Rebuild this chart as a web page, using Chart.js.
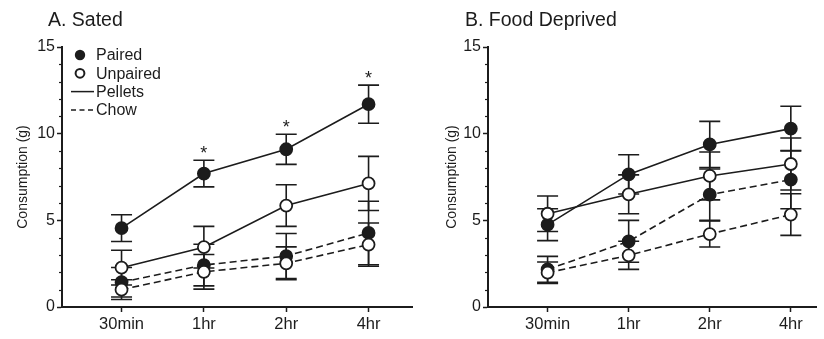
<!DOCTYPE html>
<html>
<head>
<meta charset="utf-8">
<script src="https://cdn.jsdelivr.net/npm/chart.js@4.4.1/dist/chart.umd.min.js"></script>
<style>
  html, body { margin: 0; padding: 0; background: #fff; }
  #wrap { position: relative; width: 824px; height: 339px; overflow: hidden; font-family: "Liberation Sans", Arial, sans-serif; }
  canvas { position: absolute; top: 0; }
  #chartA { left: 0; }
  #chartB { left: 420px; }
  .panel-title { position: absolute; top: 9px; font-size: 19.5px; line-height: 20px; color: #1c1c1c; white-space: nowrap; }
</style>
</head>
<body>
<div id="wrap">
  <canvas id="chartA" width="420" height="339"></canvas>
  <canvas id="chartB" width="404" height="339"></canvas>
  <div class="panel-title" style="left:48px">A. Sated</div>
  <div class="panel-title" style="left:465px">B. Food Deprived</div>
</div>
<script>
const timepoints = ['30min', '1hr', '2hr', '4hr'];
const yTicks = [0, 5, 10, 15];
const legendLabels = ['Paired', 'Unpaired', 'Pellets', 'Chow'];

// A. Sated  (mean and SEM, grams)
const satedPairedPellets = [4.55, 7.7, 9.1, 11.7];
const satedPairedPelletsSem = [0.77, 0.77, 0.87, 1.1];
const satedUnpairedPellets = [2.27, 3.45, 5.85, 7.13];
const satedUnpairedPelletsSem = [1.0, 1.2, 1.2, 1.56];
const satedPairedChow = [1.43, 2.42, 2.94, 4.27];
const satedPairedChowSem = [0.85, 1.2, 1.3, 1.83];
const satedUnpairedChow = [1.0, 2.03, 2.52, 3.6];
const satedUnpairedChowSem = [0.57, 1.0, 0.95, 1.25];
const satedStars = ['', '*', '*', '*'];

// B. Food Deprived
const deprivedPairedPellets = [4.75, 7.65, 9.38, 10.29];
const deprivedPairedPelletsSem = [0.92, 1.13, 1.33, 1.29];
const deprivedUnpairedPellets = [5.38, 6.5, 7.56, 8.25];
const deprivedUnpairedPelletsSem = [1.02, 1.12, 1.38, 1.5];
const deprivedPairedChow = [2.17, 3.79, 6.48, 7.35];
const deprivedPairedChowSem = [0.75, 1.21, 1.48, 1.68];
const deprivedUnpairedChow = [1.98, 2.98, 4.21, 5.33];
const deprivedUnpairedChowSem = [0.62, 0.81, 0.75, 1.2];
const deprivedStars = ['', '', '', ''];

const INK = '#1c1c1c';
const FONT = '"Liberation Sans", Arial, sans-serif';
Chart.defaults.font.family = FONT;

// error bars drawn under the lines and markers
const errorBars = {
  id: 'errorBars',
  beforeDatasetsDraw(chart) {
    const {ctx, scales: {x, y}} = chart;
    ctx.save();
    ctx.strokeStyle = INK;
    ctx.lineWidth = 1.6;
    chart.data.datasets.forEach(ds => {
      ds.data.forEach((p, i) => {
        const e = ds.sem[i];
        const px = x.getPixelForValue(p.x);
        const top = y.getPixelForValue(p.y + e);
        const bot = y.getPixelForValue(p.y - e);
        ctx.beginPath();
        ctx.moveTo(px, top); ctx.lineTo(px, bot);
        ctx.moveTo(px - 10.5, top); ctx.lineTo(px + 10.5, top);
        ctx.moveTo(px - 10.5, bot); ctx.lineTo(px + 10.5, bot);
        ctx.stroke();
      });
    });
    ctx.restore();
  }
};

const stars = {
  id: 'stars',
  afterDatasetsDraw(chart, args, opts) {
    if (!opts.marks) return;
    const {ctx, scales: {x, y}} = chart;
    ctx.save();
    ctx.fillStyle = INK;
    ctx.font = '18px ' + FONT;
    ctx.textAlign = 'center';
    ctx.textBaseline = 'alphabetic';
    opts.marks.forEach((m, i) => {
      if (!m) return;
      const py = y.getPixelForValue(opts.values[i] + opts.sem[i]);
      ctx.fillText(m, x.getPixelForValue(i), py - 1);
    });
    ctx.restore();
  }
};

// minor y ticks every 1 g
const minorTicks = {
  id: 'minorTicks',
  afterDraw(chart) {
    const {ctx, chartArea, scales: {y}} = chart;
    ctx.save();
    ctx.strokeStyle = INK;
    ctx.lineWidth = 1.2;
    for (let v = y.min; v <= y.max; v++) {
      if (v % 5 === 0) continue;
      const py = Math.round(y.getPixelForValue(v)) + 0.5;
      ctx.beginPath();
      ctx.moveTo(chartArea.left - 3, py);
      ctx.lineTo(chartArea.left, py);
      ctx.stroke();
    }
    ctx.restore();
  }
};

const keyLegend = {
  id: 'keyLegend',
  afterDraw(chart, args, opts) {
    if (!opts.show) return;
    const {ctx, chartArea: {left, top}} = chart;
    ctx.save();
    ctx.fillStyle = INK;
    ctx.strokeStyle = INK;
    ctx.font = '16px ' + FONT;
    ctx.textBaseline = 'middle';
    legendLabels.forEach((lab, k) => {
      const cy = top + 8 + k * 18.3;
      const mx = left + 18;
      ctx.setLineDash([]);
      if (k === 0) {
        ctx.beginPath(); ctx.arc(mx, cy, 5.2, 0, Math.PI * 2); ctx.fill();
      } else if (k === 1) {
        ctx.lineWidth = 2;
        ctx.beginPath(); ctx.arc(mx, cy, 4.4, 0, Math.PI * 2); ctx.stroke();
      } else {
        ctx.lineWidth = 1.5;
        if (k === 3) ctx.setLineDash([5, 3.5]);
        ctx.beginPath(); ctx.moveTo(left + 9, cy); ctx.lineTo(left + 32, cy); ctx.stroke();
      }
      ctx.fillText(lab, left + 34, cy + 1);
    });
    ctx.restore();
  }
};

function series(values, sem, filled, dashed) {
  return {
    data: values.map((v, i) => ({x: i, y: v})),
    sem: sem,
    borderColor: INK,
    borderWidth: 1.6,
    borderDash: dashed ? [7, 4] : [],
    pointRadius: 6,
    pointBorderWidth: 1.8,
    pointBorderColor: INK,
    pointBackgroundColor: filled ? INK : '#fff',
    tension: 0
  };
}

function axisBase(size) {
  return {
    grid: {drawOnChartArea: false, color: INK, tickLength: 5, tickWidth: 1.5},
    border: {color: INK, width: 2},
    ticks: {color: INK, font: {size: size, family: FONT}}
  };
}

function makeChart(id, sets, cfg) {
  const xAxis = axisBase(16.5);
  xAxis.type = 'linear';
  xAxis.min = cfg.xMin;
  xAxis.max = cfg.xMax;
  xAxis.afterBuildTicks = s => { s.ticks = timepoints.map((t, i) => ({value: i})); };
  xAxis.afterFit = s => { s.height = 32; };
  xAxis.ticks.callback = v => timepoints[v];
  xAxis.ticks.padding = 3;
  xAxis.ticks.maxRotation = 0;
  xAxis.ticks.autoSkip = false;

  const yAxis = axisBase(16);
  yAxis.min = 0;
  yAxis.max = 15;
  yAxis.afterBuildTicks = s => { s.ticks = yTicks.map(v => ({value: v})); };
  yAxis.afterFit = s => { s.width = cfg.yWidth; };
  yAxis.ticks.padding = 2;
  yAxis.title = {display: true, text: 'Consumption (g)', color: INK, font: {size: 14, family: FONT}, padding: {top: cfg.titlePad, bottom: 0}};

  return new Chart(document.getElementById(id), {
    type: 'line',
    data: {datasets: sets},
    options: {
      responsive: false,
      animation: false,
      layout: {padding: {top: 47, right: cfg.padRight, left: 0, bottom: 0}},
      plugins: {
        legend: {display: false},
        tooltip: {enabled: false},
        stars: cfg.stars,
        keyLegend: {show: cfg.legend}
      },
      scales: {x: xAxis, y: yAxis}
    },
    plugins: [errorBars, stars, minorTicks, keyLegend]
  });
}

makeChart('chartA', [
  series(satedUnpairedPellets, satedUnpairedPelletsSem, false, false),
  series(satedUnpairedChow, satedUnpairedChowSem, false, true),
  series(satedPairedPellets, satedPairedPelletsSem, true, false),
  series(satedPairedChow, satedPairedChowSem, true, true)
], {
  xMin: -0.723, xMax: 3.53, yWidth: 62, titlePad: 15, padRight: 5, legend: true,
  stars: {marks: satedStars, values: satedPairedPellets, sem: satedPairedPelletsSem}
});

makeChart('chartB', [
  series(deprivedUnpairedPellets, deprivedUnpairedPelletsSem, false, false),
  series(deprivedUnpairedChow, deprivedUnpairedChowSem, false, true),
  series(deprivedPairedPellets, deprivedPairedPelletsSem, true, false),
  series(deprivedPairedChow, deprivedPairedChowSem, true, true)
], {
  xMin: -0.735, xMax: 3.313, yWidth: 68, titlePad: 24, padRight: 0, legend: false,
  stars: {marks: deprivedStars, values: deprivedPairedPellets, sem: deprivedPairedPelletsSem}
});
</script>
</body>
</html>
